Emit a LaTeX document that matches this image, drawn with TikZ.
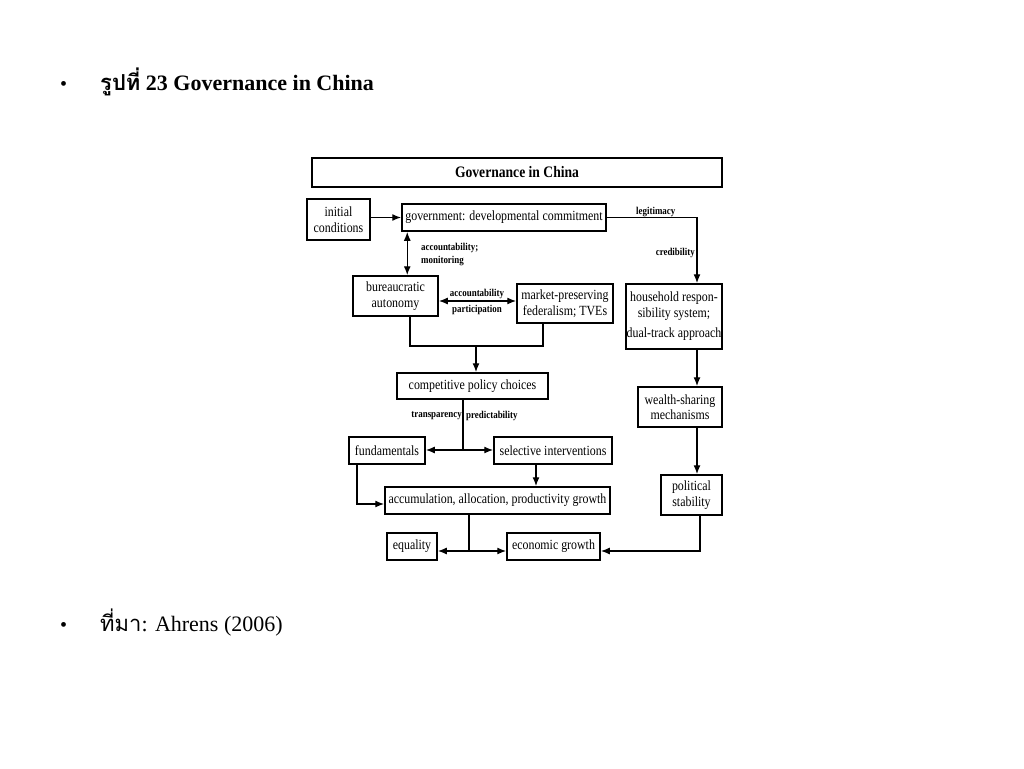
\documentclass[tikz,border=0pt]{standalone}
\usepackage{fontspec}
\setmainfont{Liberation Serif}
\newfontfamily\thaifont[Script=Thai]{Loma}
\newfontfamily\cond[FakeStretch=0.85]{Liberation Serif}
\usetikzlibrary{arrows.meta,calc}
\begin{document}
\begin{tikzpicture}[x=1pt,y=-1pt,
  box/.style={draw,line width=1.5pt,inner sep=0pt,align=center,font=\cond\fontsize{14}{15.5}\selectfont},
  lab/.style={inner sep=0pt,font=\cond\bfseries\fontsize{10.5}{13}\selectfont},
  arr/.style={line width=1.4pt,-{Latex[length=9pt,width=7pt]}},
  darr/.style={line width=1.4pt,{Latex[length=9pt,width=7pt]}-{Latex[length=9pt,width=7pt]}},
  ln/.style={line width=1.4pt}]
\useasboundingbox[fill=white] (0,0) rectangle (1024,768);
% bullets
\node[anchor=base west,inner sep=0pt,font=\fontsize{20}{24}\selectfont] (b1) at (60,90) {•};
\node[anchor=base west,inner sep=0pt,font=\bfseries\fontsize{22}{26}\selectfont] (t1) at (100,90) {{\thaifont รูปที่} 23 Governance in China};
\node[anchor=base west,inner sep=0pt,font=\fontsize{20}{24}\selectfont] (b2) at (60,631) {•};
\node[anchor=base west,inner sep=0pt,font=\fontsize{22}{26}\selectfont] (t2) at (100,631) {{\thaifont ที่มา}: Ahrens (2006)};
% title box
\node[box,minimum width=410pt,minimum height=29pt,font=\cond\bfseries\fontsize{16}{17}\selectfont] (title) at (517,172.5) {Governance in China};
% nodes
\node[box,minimum width=63pt,minimum height=41pt] (init) at (338.5,219.5) {initial\\conditions};
\node[box,minimum width=204pt,minimum height=27pt] (gov) at (504,217.5) {government: developmental commitment};
\node[box,minimum width=85pt,minimum height=40pt] (bur) at (395.5,296) {bureaucratic\\autonomy};
\node[box,minimum width=96pt,minimum height=39pt] (mkt) at (565,303.5) {market-preserving\\federalism; TVEs};
\node[box,minimum width=96pt,minimum height=65pt] (hh) at (674,316.5) {household respon-\\sibility system;\\[5pt]dual-track approach};
\node[box,minimum width=151pt,minimum height=26pt] (comp) at (472.5,386) {competitive policy choices};
\node[box,minimum width=84pt,minimum height=40pt] (ws) at (680,407) {wealth-sharing\\mechanisms};
\node[box,minimum width=76pt,minimum height=27pt] (fund) at (387,450.5) {fundamentals};
\node[box,minimum width=118pt,minimum height=27pt] (sel) at (553,450.5) {selective interventions};
\node[box,minimum width=61pt,minimum height=40pt] (pol) at (691.5,495) {political\\stability};
\node[box,minimum width=225pt,minimum height=27pt] (acc) at (497.5,500.5) {accumulation, allocation, productivity growth};
\node[box,minimum width=50pt,minimum height=27pt] (eq) at (412,546.5) {equality};
\node[box,minimum width=93pt,minimum height=27pt] (eg) at (553.5,546.5) {economic growth};
% labels
\node[lab,anchor=west] (l1) at (636,212) {legitimacy};
\node[lab,anchor=east] (l2) at (695,253) {credibility};
\node[lab,anchor=west,align=left] (l3) at (421,255) {accountability;\\monitoring};
\node[lab] (l4) at (477,294) {accountability};
\node[lab] (l5) at (477,310) {participation};
\node[lab,anchor=east] (l6) at (462,416) {transparency};
\node[lab,anchor=west] (l7) at (466,416) {predictability};
% junctions
\coordinate (j1) at (476,346);
\coordinate (j2) at (463,450);
\coordinate (j3) at (469,551);
% connectors
\draw[arr] (init.east |- gov.west) -- (gov.west);
\draw[arr] (gov.east) -| ([xshift=23pt]hh.north);
\draw[darr] ([xshift=6pt]gov.south west) -- ([xshift=6pt]gov.south west |- bur.north);
\draw[darr] ([yshift=-5pt]bur.east) -- ([yshift=-5pt]bur.east -| mkt.west);
\draw[ln] ([xshift=14.5pt]bur.south) |- (j1) -| ([xshift=-22pt]mkt.south);
\draw[arr] (j1) -- (j1 |- comp.north);
\draw[ln] (j2 |- comp.south) -- (j2);
\draw[arr] (j2) -- (j2 -| fund.east);
\draw[arr] (j2) -- (j2 -| sel.west);
\draw[arr] ([xshift=-17pt]sel.south) -- ([xshift=-17pt]sel.south |- acc.north);
\draw[arr] ([xshift=-30pt]fund.south) |- ([yshift=-3.5pt]acc.west);
\draw[ln] (j3 |- acc.south) -- (j3);
\draw[arr] (j3) -- (j3 -| eq.east);
\draw[arr] (j3) -- (j3 -| eg.west);
\draw[arr] ([xshift=23pt]hh.south) -- ([xshift=23pt]hh.south |- ws.north);
\draw[arr] ([xshift=17pt]ws.south) -- ([xshift=17pt]ws.south |- pol.north);
\draw[arr] ([xshift=8.5pt]pol.south) |- ([yshift=-4.5pt]eg.east);
\end{tikzpicture}
\end{document}
